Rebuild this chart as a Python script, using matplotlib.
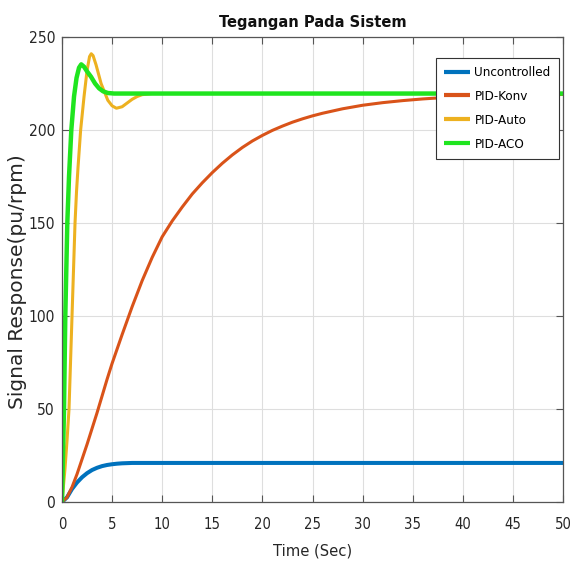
import matplotlib
matplotlib.use("Agg")
import matplotlib.pyplot as plt
from matplotlib import font_manager as fm

# ---- data ----
t_unc = [0, 0.5, 1, 1.5, 2, 2.5, 3, 3.5, 4, 4.5, 5, 5.5, 6, 7, 8, 10, 50]
v_unc = [0, 2.5, 7, 10.5, 13.3, 15.5, 17.2, 18.4, 19.3, 19.9, 20.3, 20.6, 20.8, 21, 21, 21, 21]

t_konv = [0, 0.5, 1, 1.5, 2, 2.5, 3, 3.5, 4, 4.5, 5, 6, 7, 8, 9, 10, 11, 12, 13, 14,
          15, 16, 17, 18, 19, 20, 21, 22, 23, 24, 25, 26, 28, 30, 32, 34, 36, 38, 40, 43, 46, 50]
v_konv = [0, 2.5, 8, 15, 23, 31, 39.5, 48, 57, 66, 74.5, 90, 105, 119, 131.5, 142.6, 151.1, 158.6,
          165.6, 171.6, 177.1, 182.1, 186.6, 190.6, 194.1, 197.1, 199.8, 202.1, 204.2, 206, 207.6,
          209, 211.4, 213.3, 214.7, 215.8, 216.7, 217.4, 217.9, 218.4, 218.8, 219.1]

t_auto = [0, 0.3, 0.5, 0.7, 0.85, 1.0, 1.15, 1.3, 1.45, 1.6, 1.86, 2.2, 2.5, 2.75, 2.92, 3.1,
          3.4, 3.9, 4.57, 5.0, 5.43, 6.0, 6.5, 7.0, 7.5, 8.0, 9.0, 50]
v_auto = [0, 18, 33, 50, 75, 100, 125, 150, 167, 180, 200, 218, 232, 239.5, 241, 240,
          235, 225, 216, 213, 211.7, 212.5, 214.5, 216.5, 218, 219, 219.6, 219.6]

t_aco = [0, 0.1, 0.2, 0.33, 0.45, 0.53, 0.7, 0.93, 1.2, 1.45, 1.7, 1.92, 2.2, 2.5, 2.9,
         3.3, 3.7, 4.1, 4.57, 5.2, 50]
v_aco = [0, 25, 50, 100, 130, 150, 175, 200, 218, 228, 233.5, 235.3, 234, 231.5, 228.6,
         225, 222.4, 220.8, 219.9, 219.6, 219.6]

labels = ["Uncontrolled", "PID-Konv", "PID-Auto", "PID-ACO"]
colors = ["#0072BD", "#D95319", "#EDB120", "#1FE51F"]

xticks = list(range(0, 51, 5))
yticks = list(range(0, 251, 50))

# ---- pick a narrow sans font if one is installed ----
def find_narrow(bold=False):
    prefs = ["Liberation Sans Narrow", "Arial Narrow", "DejaVu Sans", "Roboto Condensed",
             "Open Sans Condensed", "Noto Sans"]
    cands = []
    for f in fm.fontManager.ttflist:
        st = str(f.stretch).lower()
        nm = f.name
        fn = f.fname.lower()
        narrow = ("narrow" in nm.lower() or "condensed" in nm.lower() or "condensed" in st
                  or "narrow" in fn or "condensed" in fn)
        if not narrow:
            continue
        if "oblique" in fn or "italic" in fn or str(f.style) != "normal":
            continue
        w = f.weight if isinstance(f.weight, int) else (700 if "bold" in str(f.weight) else 400)
        if bold != (w >= 600):
            continue
        if "semi" in fn or "extra" in fn or "light" in fn or "black" in fn or "medium" in fn:
            continue
        rank = len(prefs)
        for i, p in enumerate(prefs):
            if nm.startswith(p):
                rank = i
                break
        cands.append((rank, f.fname))
    if cands:
        cands.sort()
        return cands[0][1]
    return None

reg_file = find_narrow(False)
bold_file = find_narrow(True)
if reg_file:
    FP = lambda size: fm.FontProperties(fname=reg_file, size=size)
    k = 1.0
else:
    FP = lambda size: fm.FontProperties(family=["Liberation Sans", "DejaVu Sans"], size=size)
    k = 0.9
if bold_file:
    FPB = lambda size: fm.FontProperties(fname=bold_file, size=size)
    kb = 1.0
else:
    FPB = lambda size: fm.FontProperties(family=["Liberation Sans", "DejaVu Sans"],
                                         weight="bold", size=size)
    kb = 0.92

fig = plt.figure(figsize=(5.71, 5.68), dpi=100)
ax = fig.add_axes([62 / 571, 1 - 502 / 568, 501 / 571, 465 / 568])

series = [(t_unc, v_unc), (t_konv, v_konv), (t_auto, v_auto), (t_aco, v_aco)]
widths = [2.9, 2.2, 2.2, 3.2]
for (t, v), lab, c, lw in zip(series, labels, colors, widths):
    ax.plot(t, v, color=c, lw=lw, label=lab, solid_capstyle="butt")

ax.set_xlim(0, 50)
ax.set_ylim(0, 250)
ax.set_xticks(xticks)
ax.set_yticks(yticks)
ax.set_xticklabels([str(x) for x in xticks], fontproperties=FP(10.6 * k), color="#262626")
ax.set_yticklabels([str(y) for y in yticks], fontproperties=FP(11.2 * k), color="#262626")
ax.tick_params(direction="in", length=5, width=0.8, color="#555555",
               top=True, right=True)
ax.tick_params(axis="x", pad=11)
ax.tick_params(axis="y", pad=5)
ax.grid(True, color="#dedede", lw=0.8)
ax.set_axisbelow(True)
for s in ax.spines.values():
    s.set_color("#555555")
    s.set_linewidth(0.9)

ax.set_title("Tegangan Pada Sistem", fontproperties=FPB(11.8 * kb), color="#111111", pad=7)
ax.set_xlabel("Time (Sec)", fontproperties=FP(11.8 * k), color="#262626")
ax.xaxis.set_label_coords(0.5, -(551 - 502) / 465, transform=ax.transAxes)
ax.xaxis.label.set_va("center")
ax.set_ylabel("Signal Response(pu/rpm)", family=["DejaVu Sans"], fontsize=14.5, color="#262626")
ax.yaxis.set_label_coords((18 - 62) / 501, (502 - 282) / 465)
ax.yaxis.label.set_va("center")

leg = ax.legend(loc="upper right", bbox_to_anchor=(0.992, 0.955), borderaxespad=0,
                prop=FP(9.6 * k), frameon=True, fancybox=False,
                edgecolor="#333333", framealpha=1, handlelength=2.0,
                handletextpad=0.3, labelspacing=0.82, borderpad=0.62)
leg.get_frame().set_linewidth(0.8)
for line in leg.get_lines():
    line.set_linewidth(3.0)

fig.savefig("out.png", dpi=100)
